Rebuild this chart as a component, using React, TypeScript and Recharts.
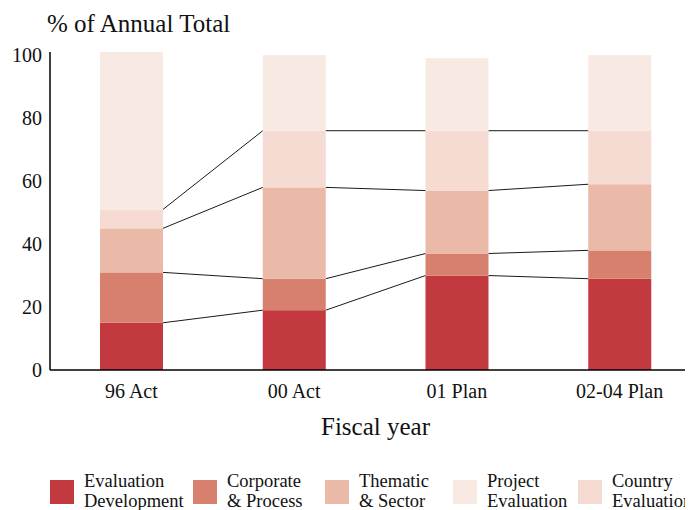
import React from 'react';
import { BarChart, Bar, XAxis, YAxis } from 'recharts';

const categories = ['96 Act', '00 Act', '01 Plan', '02-04 Plan'];
const evaluationDevelopment = [15, 19, 30, 29];
const corporateProcess = [16, 10, 7, 9];
const thematicSector = [14, 29, 20, 21];
const countryEvaluation = [6, 18, 19, 17];
const projectEvaluation = [50, 24, 23, 24];
const yTicks = [0, 20, 40, 60, 80, 100];

const seriesMeta = [
  { key: 'ed', label: ['Evaluation', 'Development'], color: '#c23940', connect: true },
  { key: 'cp', label: ['Corporate', '& Process'], color: '#d7806e', connect: true },
  { key: 'ts', label: ['Thematic', '& Sector'], color: '#eab9a8', connect: true },
  { key: 'ce', label: ['Country', 'Evaluation'], color: '#f5dbd1', connect: true },
  { key: 'pe', label: ['Project', 'Evaluation'], color: '#f8e9e2', connect: false },
];

const legendOrder = ['ed', 'cp', 'ts', 'pe', 'ce'];
const legendLeft = [50, 193, 325, 453, 578];

const data = categories.map((c, i) => ({
  name: c,
  ed: evaluationDevelopment[i],
  cp: corporateProcess[i],
  ts: thematicSector[i],
  ce: countryEvaluation[i],
  pe: projectEvaluation[i],
}));

const FONT = '"Liberation Serif", "DejaVu Serif", serif';

const store: Record<string, { x: number; y: number; width: number }[]> = {};

function makeShape(key: string, color: string, connect: boolean) {
  return (props: any) => {
    const { x, y, width, height, index } = props;
    if (!store[key]) store[key] = [];
    store[key][index] = { x, y, width };
    const prev = index > 0 ? store[key][index - 1] : null;
    return (
      <g>
        <rect x={x} y={y} width={width} height={height} fill={color} />
        {connect && prev ? (
          <line
            x1={prev.x + prev.width}
            y1={prev.y}
            x2={x}
            y2={y}
            stroke="#1a1a1a"
            strokeWidth={1}
          />
        ) : null}
      </g>
    );
  };
}

export default function App() {
  return (
    <div
      style={{
        position: 'relative',
        width: 693,
        height: 510,
        marginLeft: -8,
        marginTop: -8,
        fontFamily: FONT,
        background: '#fff',
        overflow: 'hidden',
      }}
    >
      <div
        style={{
          position: 'absolute',
          left: 47,
          top: 11,
          fontSize: 25,
          lineHeight: '25px',
          color: '#111',
          whiteSpace: 'nowrap',
        }}
      >
        % of Annual Total
      </div>
      <BarChart
        width={693}
        height={440}
        data={data}
        margin={{ top: 52, right: -8, left: 0, bottom: 0 }}
        barSize={63}
        style={{ fontFamily: FONT }}
      >
        <XAxis
          dataKey="name"
          height={70}
          tickLine={false}
          tickMargin={8}
          axisLine={{ stroke: '#000', strokeWidth: 1.5 }}
          tick={{ fill: '#111', fontSize: 20, fontFamily: FONT }}
          label={{
            value: 'Fiscal year',
            position: 'insideBottom',
            offset: 5,
            fill: '#111',
            fontSize: 25,
            fontFamily: FONT,
          }}
        />
        <YAxis
          width={50}
          domain={[0, 100]}
          ticks={yTicks}
          tickLine={false}
          axisLine={{ stroke: '#000', strokeWidth: 1.5 }}
          tick={{ fill: '#111', fontSize: 20, fontFamily: FONT }}
        />
        {seriesMeta.map((s) => (
          <Bar
            key={s.key}
            dataKey={s.key}
            stackId="a"
            fill={s.color}
            isAnimationActive={false}
            shape={makeShape(s.key, s.color, s.connect)}
          />
        ))}
      </BarChart>
      {legendOrder.map((k, i) => {
        const s = seriesMeta.find((m) => m.key === k)!;
        return (
          <div
            key={k}
            style={{
              position: 'absolute',
              left: legendLeft[i],
              top: 471,
              display: 'flex',
              alignItems: 'flex-start',
              whiteSpace: 'nowrap',
            }}
          >
            <div
              style={{
                width: 24,
                height: 24,
                marginTop: 9,
                marginRight: 10,
                background: s.color,
              }}
            />
            <div style={{ fontSize: 18.5, lineHeight: '20px', color: '#111' }}>
              <div>{s.label[0]}</div>
              <div>{s.label[1]}</div>
            </div>
          </div>
        );
      })}
    </div>
  );
}
